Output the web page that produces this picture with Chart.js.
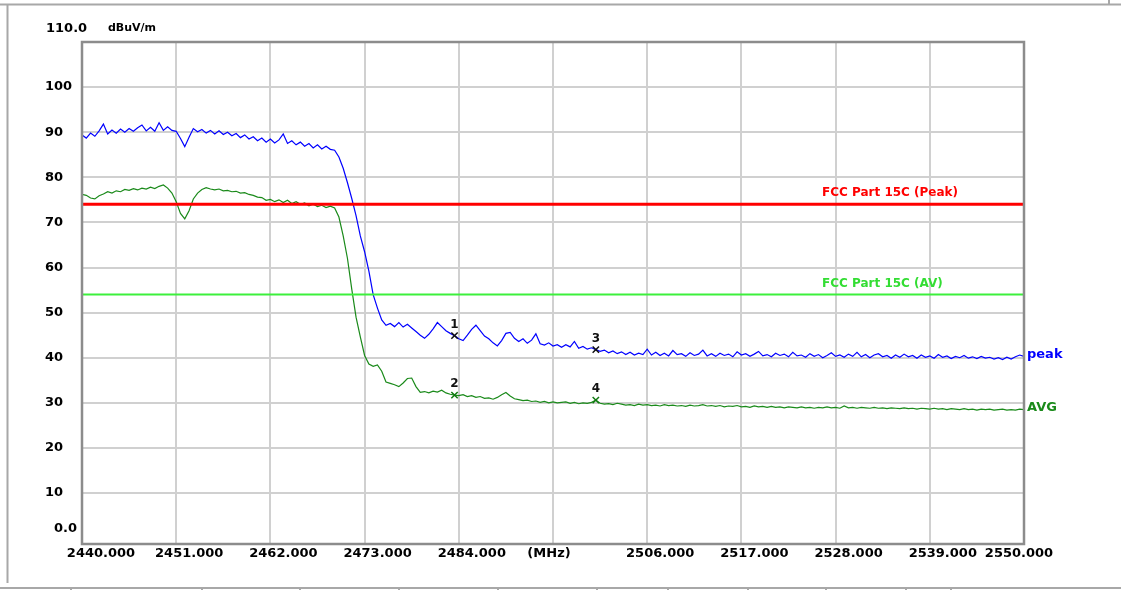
<!DOCTYPE html>
<html>
<head>
<meta charset="utf-8">
<script src="https://cdn.jsdelivr.net/npm/chart.js@4.4.1/dist/chart.umd.min.js"></script>
<style>
  html, body { margin: 0; padding: 0; background: #fff; }
  canvas { display: block; }
</style>
</head>
<body>
<canvas id="emiChart" width="1121" height="590"></canvas>
<script>
// sweep: 2440 - 2550 MHz, one reading every 0.5 MHz
const sweepStart = 2440;
const sweepStep = 0.5;

// peak detector, dBuV/m (10 readings per row = 5 MHz)
const peakTrace = [
  89.4, 88.7, 89.8, 89.1, 90.3, 91.8, 89.6, 90.5, 89.8, 90.7,
  90.0, 90.8, 90.2, 91.0, 91.6, 90.3, 91.1, 90.2, 92.1, 90.4,
  91.2, 90.4, 90.2, 88.6, 86.8, 88.9, 90.8, 90.1, 90.6, 89.8,
  90.4, 89.6, 90.3, 89.5, 90.0, 89.2, 89.7, 88.8, 89.4, 88.5,
  89.0, 88.1, 88.7, 87.8, 88.5, 87.6, 88.3, 89.6, 87.5, 88.1,
  87.2, 87.8, 86.9, 87.5, 86.5, 87.2, 86.3, 86.9, 86.2, 86.0,
  84.5, 82.0, 78.8, 75.3, 71.5, 67.0, 63.5, 59.2, 54.0, 51.0,
  48.4, 47.2, 47.6, 46.9, 47.8, 46.8, 47.4, 46.6, 45.8, 45.0,
  44.3, 45.2, 46.4, 47.8, 46.9, 46.0, 45.4, 44.9, 44.2, 43.8,
  45.0, 46.3, 47.2, 46.0, 44.8, 44.2, 43.3, 42.6, 43.8, 45.4,
  45.6, 44.3, 43.6, 44.2, 43.2, 43.9, 45.3, 43.1, 42.8, 43.3,
  42.6, 42.9, 42.3, 42.9, 42.4, 43.6, 42.1, 42.5, 41.9, 42.2,
  41.8, 41.4, 41.7, 41.1, 41.5, 40.9, 41.3, 40.7, 41.2, 40.6,
  41.0, 40.7, 41.9, 40.6, 41.2, 40.5, 41.0, 40.4, 41.6, 40.7,
  40.9, 40.3, 41.1, 40.5, 40.8, 41.7, 40.4, 40.9, 40.3, 41.0,
  40.5, 40.8, 40.2, 41.3, 40.6, 40.9, 40.3, 40.8, 41.4, 40.4,
  40.7, 40.2, 41.0, 40.5, 40.8, 40.2, 41.2, 40.4, 40.6, 40.1,
  40.9, 40.3, 40.7, 40.0, 40.5, 41.1, 40.3, 40.6, 40.1, 40.8,
  40.3, 41.2, 40.2, 40.7, 40.0, 40.6, 40.9, 40.2, 40.5, 39.9,
  40.6, 40.1, 40.8, 40.2, 40.5, 39.9, 40.6, 40.1, 40.4, 39.9,
  40.7, 40.1, 40.4, 39.8, 40.3, 40.0, 40.5, 39.9, 40.2, 39.8,
  40.3, 39.9, 40.1, 39.7, 40.0, 39.6, 40.1, 39.7, 40.2, 40.6,
  40.3
];

// average detector, dBuV/m
const avgTrace = [
  76.2, 76.0, 75.4, 75.2, 75.9, 76.3, 76.8, 76.5, 77.0, 76.8,
  77.3, 77.1, 77.5, 77.2, 77.6, 77.4, 77.8, 77.5, 78.0, 78.3,
  77.6, 76.5, 74.6, 72.0, 70.8, 72.6, 75.2, 76.5, 77.3, 77.7,
  77.4, 77.2, 77.4, 77.0, 77.1, 76.8, 76.9, 76.5, 76.6, 76.2,
  76.0, 75.6, 75.5, 74.9, 75.1, 74.6, 75.0, 74.4, 74.9, 74.2,
  74.6, 74.0, 74.3, 73.7, 74.1, 73.5, 73.8, 73.3, 73.6, 73.2,
  71.2, 67.0, 62.0, 55.2, 49.0, 44.6, 40.5, 38.6, 38.1, 38.4,
  37.0, 34.6, 34.3, 34.0, 33.6, 34.4, 35.4, 35.5, 33.6, 32.3,
  32.5, 32.2, 32.6, 32.4, 32.8, 32.2, 31.9, 31.7, 31.6, 31.8,
  31.4, 31.6, 31.2, 31.4, 31.0, 31.1, 30.8, 31.2, 31.8, 32.3,
  31.5, 30.9, 30.7, 30.5, 30.6, 30.3, 30.4, 30.1, 30.3, 30.0,
  30.2, 30.0, 30.1, 30.2, 29.9, 30.1, 29.8, 30.0, 29.9, 30.1,
  30.6, 29.9, 29.7, 29.8, 29.6, 29.9, 29.7, 29.5, 29.6, 29.4,
  29.7, 29.5, 29.6, 29.4, 29.5, 29.3, 29.6, 29.4, 29.5, 29.3,
  29.4, 29.2, 29.5, 29.3, 29.4, 29.6, 29.3, 29.4, 29.2, 29.4,
  29.1, 29.3, 29.2, 29.4, 29.1, 29.2, 29.0, 29.3, 29.1, 29.2,
  29.0, 29.2, 29.0, 29.1, 28.9, 29.1, 29.0, 28.9, 29.1, 28.9,
  29.0, 28.8, 29.0, 28.9, 29.1, 28.9, 29.0, 28.8, 29.3, 28.9,
  29.0, 28.8, 29.0, 28.9, 28.8, 29.0, 28.8, 28.9, 28.7, 28.9,
  28.8, 28.7, 28.9, 28.7, 28.8, 28.6, 28.8, 28.7, 28.6, 28.8,
  28.6, 28.7, 28.5, 28.7, 28.6, 28.5, 28.7, 28.5, 28.6, 28.4,
  28.6, 28.5, 28.6, 28.4, 28.5, 28.6, 28.4, 28.5, 28.4, 28.6,
  28.5
];

// FCC Part 15C limits
const limitPeak = 74;
const limitAvg = 54;

// markers 1..4 (freq MHz, level dBuV/m)
const markerFreqs = [2483.5, 2483.5, 2500, 2500];
const markerLevels = [44.9, 31.7, 41.8, 30.6];

const xTicks = [2440, 2451, 2462, 2473, 2484, 2495, 2506, 2517, 2528, 2539, 2550];
const xLabels = ['2440.000', '2451.000', '2462.000', '2473.000', '2484.000', '(MHz)',
                 '2506.000', '2517.000', '2528.000', '2539.000', '2550.000'];
const yTicks = [10, 20, 30, 40, 50, 60, 70, 80, 90, 100];

const toPoints = (arr) => arr.map((v, i) => ({ x: sweepStart + i * sweepStep, y: v }));
const flatLine = (level) => [{ x: xTicks[0], y: level }, { x: xTicks[xTicks.length - 1], y: level }];

const TXT = "'DejaVu Sans', 'Liberation Sans', sans-serif";

// page frame, plot border and all the text around the plot
const decorations = {
  id: 'decorations',
  beforeDraw(chart) {
    const ctx = chart.ctx;
    ctx.save();
    ctx.fillStyle = '#fff';
    ctx.fillRect(0, 0, chart.width, chart.height);
    ctx.strokeStyle = '#a8a8a8';
    ctx.lineWidth = 2;
    ctx.beginPath();
    ctx.moveTo(0, 4.5); ctx.lineTo(chart.width, 4.5);
    ctx.moveTo(7.5, 4.5); ctx.lineTo(7.5, 583);
    ctx.moveTo(1109, 0); ctx.lineTo(1109, 5);
    ctx.moveTo(0, 588); ctx.lineTo(chart.width, 588);
    [71, 202, 300, 399, 498, 597, 668, 748, 826, 906, 951].forEach(x => {
      ctx.moveTo(x, 588); ctx.lineTo(x, 590);
    });
    ctx.stroke();
    ctx.restore();
  },
  afterDatasetsDraw(chart) {
    const ctx = chart.ctx;
    const a = chart.chartArea;
    const xs = chart.scales.x, ys = chart.scales.y;
    ctx.save();

    // plot border
    ctx.strokeStyle = '#8c8c8c';
    ctx.lineWidth = 2.5;
    ctx.strokeRect(a.left, a.top, a.right - a.left, a.bottom - a.top);

    // y axis labels
    ctx.fillStyle = '#000';
    ctx.font = 'bold 13px ' + TXT;
    ctx.textBaseline = 'middle';
    ctx.textAlign = 'left';
    yTicks.forEach(v => ctx.fillText(String(v), 45, ys.getPixelForValue(v)));
    ctx.fillText('110.0', 46, ys.getPixelForValue(110) - 13);
    ctx.textAlign = 'right';
    ctx.fillText('0.0', 77, ys.getPixelForValue(0) - 10);
    ctx.textAlign = 'left';
    ctx.font = 'bold 11px ' + TXT;
    ctx.fillText('dBuV/m', 108, ys.getPixelForValue(110) - 14);

    // x axis labels
    ctx.font = 'bold 13px ' + TXT;
    ctx.textAlign = 'center';
    const last = xTicks.length - 1;
    xTicks.forEach((v, i) => {
      let dx = 13;
      if (i === 0) dx = 19;
      else if (i === last) dx = -5;
      else if (xLabels[i].startsWith('(')) dx = -4;
      ctx.fillText(xLabels[i], xs.getPixelForValue(v) + dx, a.bottom + 10);
    });

    // limit line captions
    ctx.font = 'bold 12px ' + TXT;
    ctx.textAlign = 'left';
    ctx.fillStyle = '#ff0000';
    ctx.fillText('FCC Part 15C (Peak)', a.right - 202, ys.getPixelForValue(limitPeak) - 11);
    ctx.fillStyle = '#33dd33';
    ctx.fillText('FCC Part 15C (AV)', a.right - 202, ys.getPixelForValue(limitAvg) - 11);

    // trace names at the right edge
    ctx.font = 'bold 13px ' + TXT;
    ctx.fillStyle = '#0000ff';
    ctx.fillText('peak', a.right + 3, ys.getPixelForValue(peakTrace[peakTrace.length - 1]) - 2);
    ctx.fillStyle = '#1a8a1a';
    ctx.fillText('AVG', a.right + 3, ys.getPixelForValue(avgTrace[avgTrace.length - 1]) - 2);

    // marker numbers
    ctx.fillStyle = '#111';
    ctx.font = 'bold 12px ' + TXT;
    ctx.textAlign = 'center';
    markerFreqs.forEach((f, i) => {
      ctx.fillText(String(i + 1), xs.getPixelForValue(f), ys.getPixelForValue(markerLevels[i]) - 11);
    });
    ctx.restore();
  }
};

const gridOpts = { color: '#d0d0d0', lineWidth: 2, drawTicks: false };

new Chart(document.getElementById('emiChart'), {
  type: 'line',
  data: {
    datasets: [
      {
        label: 'markers',
        type: 'scatter',
        data: markerFreqs.map((f, i) => ({ x: f, y: markerLevels[i] })),
        pointStyle: 'crossRot',
        pointRadius: 4.5,
        pointBorderWidth: 1.5,
        pointBorderColor: ['#111', '#127a12', '#111', '#127a12'],
        showLine: false,
        order: 0
      },
      {
        label: 'FCC Part 15C (Peak)',
        data: flatLine(limitPeak),
        borderColor: '#ff0000',
        borderWidth: 3,
        order: 1
      },
      {
        label: 'FCC Part 15C (AV)',
        data: flatLine(limitAvg),
        borderColor: '#3cf03c',
        borderWidth: 2,
        order: 2
      },
      {
        label: 'peak',
        data: toPoints(peakTrace),
        borderColor: '#0000ff',
        borderWidth: 1.2,
        order: 3
      },
      {
        label: 'AVG',
        data: toPoints(avgTrace),
        borderColor: '#1a8a1a',
        borderWidth: 1.2,
        order: 4
      }
    ]
  },
  options: {
    responsive: false,
    animation: false,
    devicePixelRatio: 1,
    layout: { padding: { left: 82, top: 42, right: 97, bottom: 46 } },
    elements: { point: { radius: 0 }, line: { tension: 0 } },
    plugins: { legend: { display: false }, tooltip: { enabled: false } },
    scales: {
      x: {
        type: 'linear',
        min: xTicks[0],
        max: xTicks[xTicks.length - 1],
        afterBuildTicks: s => { s.ticks = xTicks.map(v => ({ value: v })); },
        afterFit: s => { s.height = 0; },
        ticks: { display: false },
        grid: gridOpts,
        border: { display: false }
      },
      y: {
        min: -1.3,
        max: 110,
        afterBuildTicks: s => { s.ticks = yTicks.map(v => ({ value: v })); },
        afterFit: s => { s.width = 0; },
        ticks: { display: false },
        grid: gridOpts,
        border: { display: false }
      }
    }
  },
  plugins: [decorations]
});
</script>
</body>
</html>
